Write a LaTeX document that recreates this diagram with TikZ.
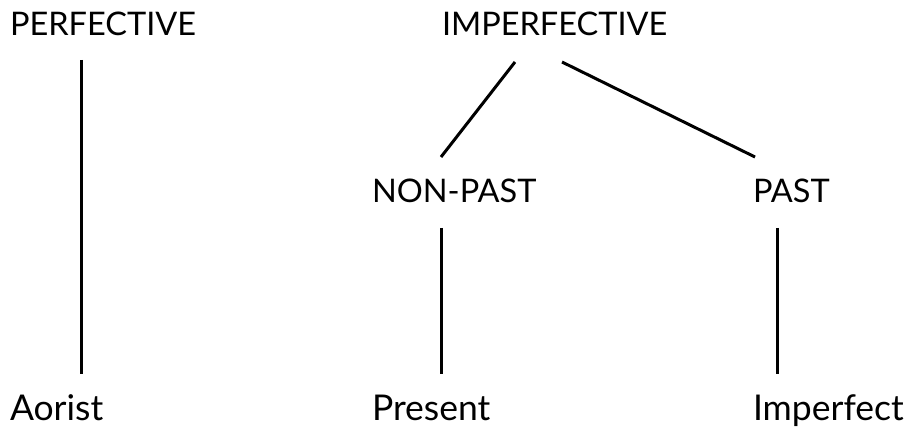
\documentclass[tikz,border=0pt]{standalone}
\usepackage{fontspec}
\setmainfont{Lato}
\begin{document}
\begin{tikzpicture}[x=1pt,y=-1pt,
  lbl/.style={anchor=base west,inner sep=0pt,outer sep=0pt,font=\fontsize{32.5}{36}\selectfont},
  lbllow/.style={lbl,font=\fontsize{35.5}{40}\selectfont},
  conn/.style={line width=3pt}]
\useasboundingbox (0,0) rectangle (907,427);
\node[lbl] (perf) at (10,36) {PERFECTIVE};
\node[lbl] (imperf) at (442,36) {IMPERFECTIVE};
\node[lbl] (nonpast) at (372,203) {NON-PAST};
\node[lbl] (past) at (753,203) {PAST};
\node[lbllow] (aor) at (10,420) {Aorist};
\node[lbllow] (pres) at (372,420) {Present};
\node[lbllow] (impf) at (753,420) {Imperfect};
% connector end points
\coordinate (perfB) at (81,60);
\coordinate (aorT) at (81,374);
\coordinate (imperfL) at (515,62);
\coordinate (nonpastT) at (441,157);
\coordinate (imperfR) at (562,62);
\coordinate (pastT) at (755,157);
\coordinate (nonpastB) at (441,228);
\coordinate (presT) at (441,374);
\coordinate (pastB) at (777,228);
\coordinate (impfT) at (777,374);
\draw[conn] (perfB) -- (aorT);
\draw[conn] (imperfL) -- (nonpastT);
\draw[conn] (imperfR) -- (pastT);
\draw[conn] (nonpastB) -- (presT);
\draw[conn] (pastB) -- (impfT);
\end{tikzpicture}
\end{document}
